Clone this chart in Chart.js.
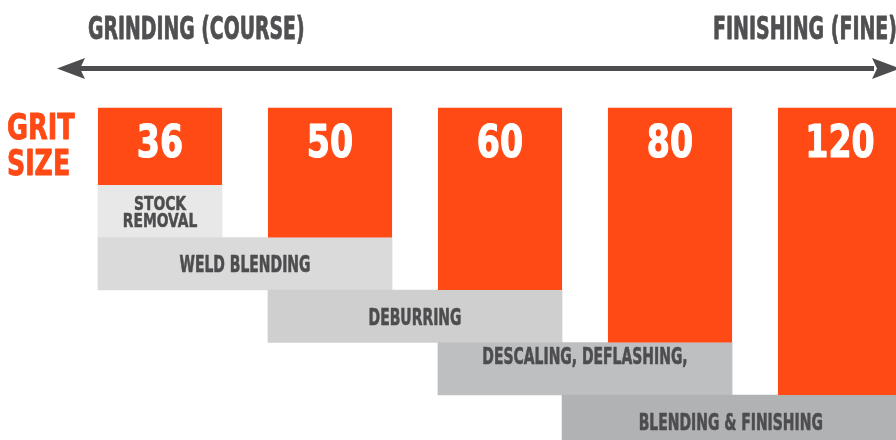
<!DOCTYPE html>
<html lang="en">
<head>
  <meta charset="UTF-8">
  <title>Grit Size Guide</title>
  <script src="https://cdn.jsdelivr.net/npm/chart.js"></script>
  <style>
    body { margin: 0; background: #fff; }
    #wrap { width: 896px; height: 440px; position: relative; }
  </style>
</head>
<body>
  <div id="wrap">
    <canvas id="gritChart"></canvas>
  </div>

  <script>
    // grit columns (x = column index, bars hang from the top down to a row)
    const gritSizes = ['36', '50', '60', '80', '120'];
    const gritColumn = [0, 1, 2, 3, 4];
    const gritTop = [-1.47, -1.47, -1.47, -1.47, -1.47];
    const gritBottom = [0, 1, 2, 3, 4];

    // applications (horizontal bars, one row each, spanning grit columns)
    const applications = ['STOCK\nREMOVAL', 'WELD BLENDING', 'DEBURRING', 'DESCALING, DEFLASHING,\n', 'BLENDING & FINISHING'];
    const appRow = [0.5, 1.5, 2.5, 3.5, 4.5];
    const appFrom = [-0.365, -0.365, 0.635, 1.635, 2.365];
    const appTo = [0.365, 1.365, 2.365, 3.365, 4.35];

    const ORANGE = '#ff4a16';
    const DARK = '#4d4d4f';
    const grayShades = ['#e8e8e8', '#dadada', '#cfcfcf', '#bebfc1', '#b1b2b4'];
    const FONT = "'DejaVu Sans Condensed', 'DejaVu Sans', sans-serif";

    // draw condensed text; cy is the middle of the capitals
    function drawText(ctx, lines, x, cy, size, color, sx, align, lineGap) {
      const cap = size * 0.729;
      const gap = lineGap || size;
      const first = cy - (lines.length - 1) * gap / 2;
      ctx.save();
      ctx.font = 'bold ' + size + 'px ' + FONT;
      ctx.fillStyle = color;
      ctx.strokeStyle = color;
      ctx.lineWidth = size / 40;
      ctx.lineJoin = 'round';
      ctx.textAlign = align;
      ctx.textBaseline = 'alphabetic';
      lines.forEach((line, i) => {
        ctx.save();
        ctx.translate(x, first + i * gap + cap / 2);
        ctx.scale(sx, 1);
        ctx.fillText(line, 0, 0);
        ctx.strokeText(line, 0, 0);
        ctx.restore();
      });
      ctx.restore();
    }

    const decorations = {
      id: 'decorations',
      afterDraw(chart) {
        const ctx = chart.ctx;
        const w = chart.width;
        // headings
        drawText(ctx, ['GRINDING (COURSE)'], 88, 27.5, 31.5, '#505052', 0.665, 'left');
        drawText(ctx, ['FINISHING (FINE)'], w + 1, 27.5, 31.5, '#505052', 0.67, 'right');
        // double arrow
        ctx.save();
        ctx.fillStyle = DARK;
        ctx.fillRect(78, 66, w - 78 - 22, 5);
        ctx.beginPath();
        ctx.moveTo(57, 68.5); ctx.lineTo(85, 58); ctx.lineTo(80, 68.5); ctx.lineTo(85, 79);
        ctx.closePath(); ctx.fill();
        ctx.beginPath();
        ctx.moveTo(w + 4, 68.5); ctx.lineTo(w - 24, 58); ctx.lineTo(w - 19, 68.5); ctx.lineTo(w - 24, 79);
        ctx.closePath(); ctx.fill();
        ctx.restore();
        // side label
        drawText(ctx, ['GRIT'], 7, 126, 36, ORANGE, 0.79, 'left');
        drawText(ctx, ['SIZE'], 7, 162, 36, ORANGE, 0.78, 'left');
      },
      afterDatasetsDraw(chart) {
        const ctx = chart.ctx;
        chart.getDatasetMeta(0).data.forEach((el, i) => {
          const p = el.getProps(['x', 'y', 'base'], true);
          const top = Math.min(p.y, p.base);
          drawText(ctx, [gritSizes[i]], p.x, top + 33, 44, '#ffffff', 0.84, 'center');
        });
        chart.getDatasetMeta(1).data.forEach((el, i) => {
          const p = el.getProps(['x', 'y', 'base'], true);
          const lines = applications[i].split('\n');
          const cx = (p.base + p.x) / 2;
          if (lines.length > 1 && lines[1] === '') {
            drawText(ctx, lines, cx, p.y, 23.5, DARK, 0.66, 'center', 27);
          } else if (lines.length > 1) {
            drawText(ctx, lines, cx, p.y, 20, DARK, 0.77, 'center', 17.5);
          } else {
            drawText(ctx, lines, cx, p.y, 23.5, DARK, 0.66, 'center');
          }
        });
      }
    };

    const hidden = (min, max, reverse) => ({
      type: 'linear', display: false, offset: false, min: min, max: max, reverse: !!reverse,
      grid: { offset: false },
      ticks: { stepSize: 1, includeBounds: false }
    });

    new Chart(document.getElementById('gritChart'), {
      type: 'bar',
      data: {
        datasets: [{
          label: 'Grit size',
          data: gritColumn.map((c, i) => ({ x: c, y: [gritTop[i], gritBottom[i]] })),
          backgroundColor: ORANGE,
          xAxisID: 'x', yAxisID: 'y',
          grouped: false,
          categoryPercentage: 1,
          barPercentage: 0.73
        }, {
          label: 'Application',
          indexAxis: 'y',
          data: appRow.map((r, i) => ({ y: r, x: [appFrom[i], appTo[i]] })),
          backgroundColor: grayShades,
          xAxisID: 'x2', yAxisID: 'y2',
          grouped: false,
          categoryPercentage: 1,
          barPercentage: 1
        }]
      },
      options: {
        responsive: true,
        maintainAspectRatio: false,
        animation: false,
        events: [],
        layout: { padding: 0 },
        plugins: { legend: { display: false }, tooltip: { enabled: false } },
        scales: {
          x: hidden(-0.9412, 4.3294),
          x2: hidden(-0.9412, 4.3294),
          y: hidden(-3.5238, 4.8571, true),
          y2: hidden(-3.5238, 4.8571, true)
        }
      },
      plugins: [decorations]
    });
  </script>
</body>
</html>
